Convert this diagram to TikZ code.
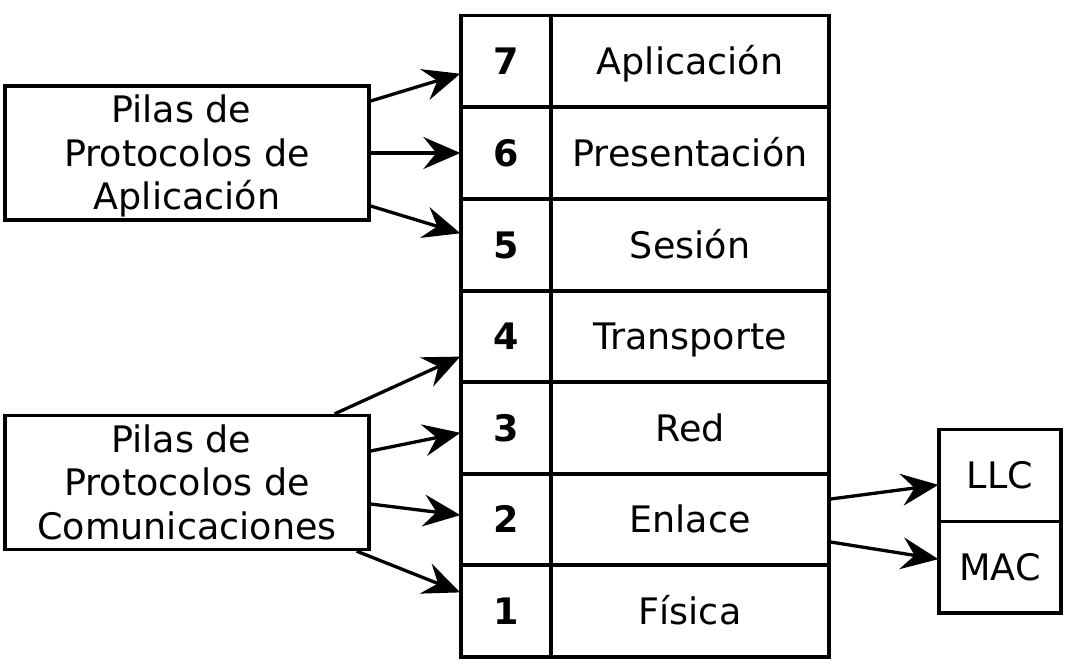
\documentclass[tikz,border=0pt]{standalone}
\usepackage{fontspec}
\setmainfont{DejaVu Sans}
\usetikzlibrary{arrows.meta,calc}
\newcommand{\tsp}{\hspace*{0.32em}}
\newcommand{\topstrut}{\rule{0pt}{36pt}}
\newcommand{\botstrut}{\rule[-10pt]{0pt}{10pt}}
\tikzset{
  txt/.style={font=\fontsize{36.5}{43.5}\selectfont, text height=26.5pt, text depth=0pt},
  cell/.style={draw, line width=3.3pt, minimum height=91.7pt, inner sep=0pt, txt},
  numcell/.style={cell, minimum width=90pt, font=\fontsize{36.5}{43.5}\selectfont\bfseries},
  labcell/.style={cell, minimum width=278pt},
  stackbox/.style={draw, line width=3.3pt, minimum width=364pt, minimum height=134pt, inner sep=0pt, align=center, font=\fontsize{36.5}{43.5}\selectfont},
  subbox/.style={draw, line width=3.3pt, minimum width=122pt, minimum height=91.7pt, inner sep=0pt, txt},
  conn/.style={line width=3.3pt, -{Stealth[length=37pt,width=32pt,inset=13pt]}, shorten >=-1pt}
}
\begin{document}
\begin{tikzpicture}[x=1pt,y=-1pt]
\path[use as bounding box, fill=white] (0,0) rectangle (1070,667);
% table rows
\node[numcell] (n7) at (506,61) {7};
\node[labcell] (l7) at (690,61) {Aplicación};
\node[numcell] (n6) at (506,153) {6};
\node[labcell] (l6) at (690,153) {Presentación};
\node[numcell] (n5) at (506,245) {5};
\node[labcell] (l5) at (690,245) {Sesión};
\node[numcell] (n4) at (506,336) {4};
\node[labcell] (l4) at (690,336) {Transporte};
\node[numcell] (n3) at (506,428) {3};
\node[labcell] (l3) at (690,428) {Red};
\node[numcell] (n2) at (506,519) {2};
\node[labcell] (l2) at (690,519) {Enlace};
\node[numcell] (n1) at (506,611) {1};
\node[labcell] (l1) at (690,611) {Física};
% left boxes
\node[stackbox] (pa) at (187,153) {\topstrut Pilas de\tsp\\Protocolos de\tsp\\Aplicación\botstrut};
\node[stackbox] (pc) at (187,482.5) {\topstrut Pilas de\tsp\\Protocolos de\tsp\\Comunicaciones\botstrut};
% right boxes
\node[subbox] (llc) at (1000,475.5) {LLC};
\node[subbox] (mac) at (1000,567) {MAC};
% connectors
\draw[conn] ([yshift=52pt]pa.east) -- ([yshift=-13pt]n7.west);
\draw[conn] (pa.east) -- (n6.west);
\draw[conn] ([yshift=-53pt]pa.east) -- ([yshift=12pt]n5.west);
\draw[conn] ([xshift=-36pt]pc.north east) -- ([yshift=-21pt]n4.west);
\draw[conn] ([yshift=31.5pt]pc.east) -- ([yshift=-5pt]n3.west);
\draw[conn] ([yshift=-21.5pt]pc.east) -- ([yshift=4pt]n2.west);
\draw[conn] ([xshift=-14pt]pc.south east) -- ([yshift=19pt]n1.west);
\draw[conn] ([yshift=20pt]l2.east) -- ([yshift=-9.5pt]llc.west);
\draw[conn] ([yshift=-23pt]l2.east) -- ([yshift=8pt]mac.west);
\end{tikzpicture}
\end{document}
